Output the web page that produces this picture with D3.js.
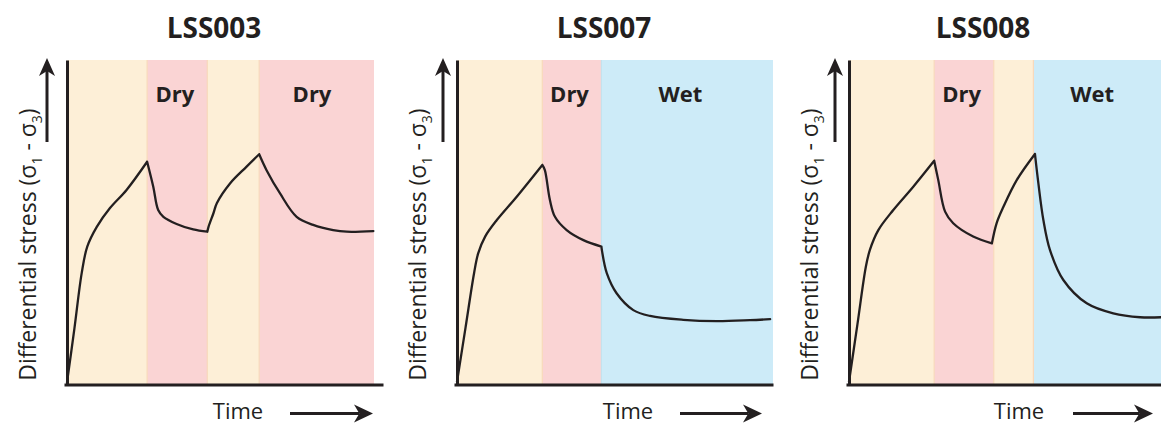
<!DOCTYPE html>
<html>
<head>
<meta charset="utf-8">
<script src="https://cdn.jsdelivr.net/npm/d3@7"></script>
<style>
  html, body { margin: 0; padding: 0; background: #fff; }
  svg { display: block; }
  text { font-family: "Open Sans", "Noto Sans", sans-serif; fill: #231f20; }
</style>
</head>
<body>
<svg id="chart" width="1161" height="424"></svg>
<script>
// ---- data: experiment names, phase boundaries (time units 0-100) and stress curves (0-100) ----
const panelTitles = ["LSS003", "LSS007", "LSS008"];
const phaseLabels = { load: "", dry: "Dry", wet: "Wet" };

const lss003Phases = [
  { phase: "load", from: 0, to: 26.1 },
  { phase: "dry", from: 26.1, to: 45.7 },
  { phase: "load", from: 45.7, to: 62.6 },
  { phase: "dry", from: 62.6, to: 100 }
];
const lss007Phases = [
  { phase: "load", from: 0, to: 27.0 },
  { phase: "dry", from: 27.0, to: 45.7 },
  { phase: "wet", from: 45.7, to: 100 }
];
const lss008Phases = [
  { phase: "load", from: 0, to: 27.3 },
  { phase: "dry", from: 27.3, to: 46.4 },
  { phase: "load", from: 46.4, to: 59.1 },
  { phase: "wet", from: 59.1, to: 100 }
];

// each curve is split into segments at the loading / relaxation switches
const lss003Stress = [
  [[0, 0.5], [2.4, 17], [4.8, 34.3], [6.6, 42.4], [9.7, 48.5], [14.0, 54.3], [19.4, 59.9], [26.1, 68.6]],
  [[26.1, 68.6], [28.1, 60.9], [29.7, 53.7], [31.4, 51.6], [35.7, 49.4], [41.1, 47.7], [45.7, 47.0]],
  [[45.7, 47.0], [46.1, 48.5], [47.7, 52.7], [48.8, 55.8], [53.1, 61.9], [58.5, 67.1], [62.6, 70.9]],
  [[62.6, 70.9], [65.0, 66.0], [69.4, 58.8], [74.8, 51.6], [80.2, 49.1], [86.7, 47.5], [91.1, 47.0], [99.8, 47.2]]
];
const lss007Stress = [
  [[0, 0.7], [2.7, 17.4], [5.4, 34.2], [6.7, 40.3], [8.9, 45.5], [12.6, 50.6], [18.9, 57.8], [27.0, 67.6]],
  [[27.0, 67.6], [27.8, 66.0], [29.4, 56.8], [31.0, 51.6], [34.7, 47.5], [40.0, 44.4], [45.7, 42.4]],
  [[45.7, 42.4], [45.9, 41.0], [47.4, 34.2], [50.5, 28.0], [55.8, 22.8], [61.1, 21.0], [71.6, 19.8], [82.2, 19.4], [92.7, 19.7], [99.1, 20.0]]
];
const lss008Stress = [
  [[0, 0.7], [2.7, 18.4], [5.4, 36.2], [6.7, 41.4], [9.4, 47.5], [14.2, 53.7], [20.6, 60.9], [27.3, 68.9]],
  [[27.3, 68.9], [28.6, 63.0], [30.8, 53.2], [33.4, 49.6], [39.8, 45.5], [45.8, 43.4]],
  [[45.8, 43.4], [47.3, 49.6], [49.5, 54.7], [53.8, 63.0], [59.6, 71.0]],
  [[59.6, 71.0], [60.7, 61.9], [62.3, 50.6], [64.4, 41.4], [68.7, 32.1], [76.2, 24.9], [84.7, 21.8], [93.3, 20.6], [100, 20.6]]
];

const phaseColors = { load: "#fdefd7", dry: "#fad4d4", wet: "#cdebf8" };
const edgeColors = { load: "#f8d9bb", dry: "#f6cbc6", wet: "#c4e2ee" };

// ---- layout ----
const panels = [
  { title: panelTitles[0], phases: lss003Phases, stress: lss003Stress,
    left: 67, right: 374, axisEnd: 383, titleX: 214, timeX: 238, arrowFrom: 290, arrowTo: 373, upX: 47 },
  { title: panelTitles[1], phases: lss007Phases, stress: lss007Stress,
    left: 457, right: 773, axisEnd: 773, titleX: 604, timeX: 628, arrowFrom: 680, arrowTo: 762, upX: 443 },
  { title: panelTitles[2], phases: lss008Phases, stress: lss008Stress,
    left: 849, right: 1161, axisEnd: 1161, titleX: 983, timeX: 1019, arrowFrom: 1073, arrowTo: 1153, upX: 835 }
];
const plotTop = 60, plotBottom = 384;
const ink = "#231f20";

const svg = d3.select("#chart");

// filled arrow with a notched head, drawn from (x1,y1) to (x2,y2)
function arrow(g, x1, y1, x2, y2, headLen, headW) {
  const ang = Math.atan2(y2 - y1, x2 - x1);
  const ux = Math.cos(ang), uy = Math.sin(ang), px = -uy, py = ux;
  const bx = x2 - ux * headLen, by = y2 - uy * headLen;
  const nx = x2 - ux * headLen * 0.72, ny = y2 - uy * headLen * 0.72;
  g.append("line")
    .attr("x1", x1).attr("y1", y1).attr("x2", nx).attr("y2", ny)
    .attr("stroke", ink).attr("stroke-width", 3);
  g.append("path")
    .attr("d", `M${x2},${y2}L${bx + px * headW / 2},${by + py * headW / 2}L${nx},${ny}L${bx - px * headW / 2},${by - py * headW / 2}Z`)
    .attr("fill", ink);
}

panels.forEach(p => {
  const g = svg.append("g");
  const x = d3.scaleLinear().domain([0, 100]).range([p.left, p.right]);
  const y = d3.scaleLinear().domain([0, 100]).range([plotBottom, plotTop]);

  // condition bands
  g.selectAll("rect.band").data(p.phases).join("rect")
    .attr("class", "band")
    .attr("x", d => x(d.from)).attr("y", plotTop)
    .attr("width", d => x(d.to) - x(d.from)).attr("height", plotBottom - plotTop)
    .attr("fill", d => phaseColors[d.phase]);
  g.selectAll("line.edge").data(p.phases.slice(1)).join("line")
    .attr("class", "edge")
    .attr("x1", d => x(d.from)).attr("x2", d => x(d.from))
    .attr("y1", plotTop).attr("y2", plotBottom)
    .attr("stroke", (d, i) => edgeColors[p.phases[i].phase === "load" ? "load" : d.phase])
    .attr("stroke-width", 1.2);

  g.selectAll("text.phase").data(p.phases.filter(d => phaseLabels[d.phase])).join("text")
    .attr("class", "phase")
    .attr("x", d => x(d.from) + (x(d.to) - x(d.from)) * 0.46)
    .attr("y", 102)
    .attr("text-anchor", "middle")
    .attr("font-size", 22).attr("font-weight", 700)
    .text(d => phaseLabels[d.phase]);

  // stress curve, one smooth piece per loading/relaxation stage
  const line = d3.line().x(d => x(d[0])).y(d => y(d[1])).curve(d3.curveCatmullRom.alpha(0.5));
  g.append("path")
    .attr("d", p.stress.map(seg => line(seg)).join(""))
    .attr("fill", "none").attr("stroke", ink)
    .attr("stroke-width", 2.3).attr("stroke-linejoin", "round").attr("stroke-linecap", "round");

  // axes (no ticks, just the axis lines)
  const xAxisScale = d3.scaleLinear().domain([0, 1]).range([p.left - 3, p.axisEnd]);
  const xAxis = g.append("g").attr("transform", `translate(0,${plotBottom + 0.5})`)
    .call(d3.axisBottom(xAxisScale).tickValues([]).tickSizeOuter(0));
  const yAxis = g.append("g").attr("transform", `translate(${p.left},0)`)
    .call(d3.axisLeft(y).tickValues([]).tickSizeOuter(0));
  [xAxis, yAxis].forEach(a => a.select(".domain").attr("stroke", ink).attr("stroke-width", 3));

  // title
  g.append("text")
    .attr("x", p.titleX).attr("y", 38)
    .attr("text-anchor", "middle")
    .attr("font-size", 28).attr("font-weight", 700)
    .text(p.title);

  // y label with sigma subscripts
  const yl = g.append("text")
    .attr("transform", `translate(${p.left - 31},${(plotBottom + 107) / 2 - 1}) rotate(-90)`)
    .attr("text-anchor", "middle")
    .attr("font-size", 23);
  yl.append("tspan").text("Differential stress  (σ");
  yl.append("tspan").attr("font-size", 14).attr("dy", 6).text("1");
  yl.append("tspan").attr("dy", -6).text(" - σ");
  yl.append("tspan").attr("font-size", 14).attr("dy", 6).text("3");
  yl.append("tspan").attr("dy", -6).text(")");

  arrow(g, p.upX, 142, p.upX, 58, 18, 16);

  // time label and arrow
  g.append("text")
    .attr("x", p.timeX).attr("y", 419)
    .attr("text-anchor", "middle")
    .attr("font-size", 22)
    .text("Time");
  arrow(g, p.arrowFrom, 413.5, p.arrowTo, 413.5, 19, 18);
});
</script>
</body>
</html>
